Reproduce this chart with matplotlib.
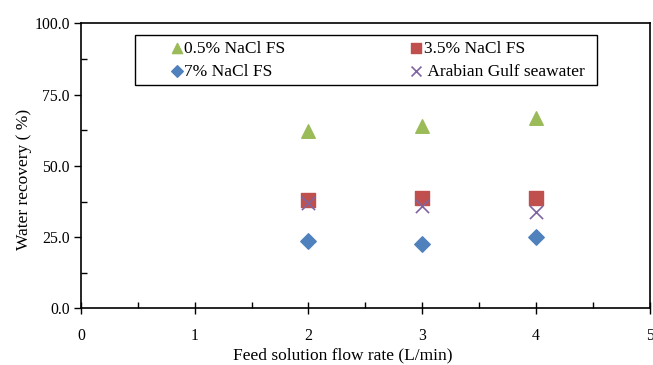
import numpy as np
import matplotlib.pyplot as plt
from matplotlib.ticker import MultipleLocator, FormatStrFormatter
from matplotlib.patches import Rectangle

plt.rcParams['font.family'] = ['Liberation Serif', 'DejaVu Serif']

flow = [2, 3, 4]
nacl_05 = [62.1, 64.1, 66.8]
nacl_35 = [37.9, 38.9, 38.8]
nacl_7 = [23.8, 22.6, 25.2]
gulf = [37.0, 36.0, 33.9]

fig = plt.figure(figsize=(6.53, 3.65), dpi=100)
ax = fig.add_axes([0.124, 0.155, 0.871, 0.781])

h1 = ax.scatter(flow, nacl_05, marker='^', s=95, color='#9BBB59', label='0.5% NaCl FS', zorder=3)
h2 = ax.scatter(flow, nacl_35, marker='s', s=90, color='#C0504D', label='3.5% NaCl FS', zorder=3)
h3 = ax.scatter(flow, nacl_7, marker='D', s=62, color='#4F81BD', label='7% NaCl FS', zorder=3)
h4 = ax.scatter(flow, gulf, marker='x', s=90, color='#8064A2', linewidths=1.2,
                label='Arabian Gulf seawater', zorder=4)

ax.set_xlim(0, 5)
ax.set_ylim(0, 100)
ax.xaxis.set_major_locator(MultipleLocator(1))
ax.xaxis.set_minor_locator(MultipleLocator(0.5))
ax.yaxis.set_major_locator(MultipleLocator(25))
ax.yaxis.set_minor_locator(MultipleLocator(12.5))
ax.yaxis.set_major_formatter(FormatStrFormatter('%.1f'))

ax.tick_params(axis='y', which='major', direction='out', length=5, width=1, labelsize=11.3, pad=3)
ax.tick_params(axis='y', which='minor', direction='in', length=4, width=1)
ax.tick_params(axis='x', which='major', direction='inout', length=8, width=1, labelsize=11.3, pad=10)
ax.tick_params(axis='x', which='minor', direction='in', length=4, width=1)

for sp in ax.spines.values():
    sp.set_linewidth(1.2)

ax.set_xlabel('Feed solution flow rate (L/min)', fontsize=12.5, labelpad=3)
ax.xaxis.set_label_coords(0.461, -0.135)
ax.set_ylabel('Water recovery ( %)', fontsize=12.5)
ax.yaxis.set_label_coords(-0.086, 0.454)

# legend frame drawn separately so the box can be wider than its content
ax.add_patch(Rectangle((0.0947, 0.784), 0.812, 0.175, transform=ax.transAxes,
                       fill=True, facecolor='white', edgecolor='black', linewidth=1.0, zorder=5))
leg = ax.legend([h1, h3, h2, h4], ['0.5% NaCl FS', '7% NaCl FS', '3.5% NaCl FS', ' Arabian Gulf seawater'],
                loc='upper left', bbox_to_anchor=(0.156, 0.94), ncol=2, fontsize=12.5,
                frameon=False, handletextpad=0.05, labelspacing=0.4, handlelength=0.8,
                columnspacing=7.1, borderaxespad=0, borderpad=0, scatterpoints=1, markerscale=0.75)
leg.set_zorder(6)

fig.savefig('out.png', dpi=100)
